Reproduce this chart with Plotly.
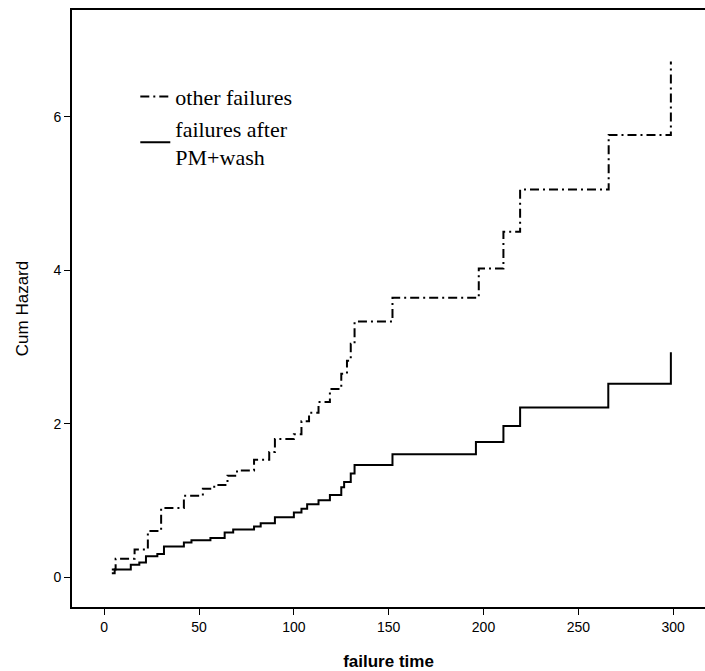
import plotly.graph_objects as go

# other failures (dash-dot step curve)
other_t = [4, 6, 16, 23, 30, 42, 52, 58, 65, 70, 79, 87, 90, 100, 104, 108, 113, 119, 125, 128, 130, 132, 152, 197.5, 210.5, 219.3, 266, 298.8]
other_h = [0.1, 0.24, 0.36, 0.6, 0.9, 1.06, 1.15, 1.2, 1.32, 1.39, 1.53, 1.63, 1.8, 1.86, 2.03, 2.14, 2.28, 2.45, 2.65, 2.82, 3.04, 3.33, 3.64, 4.02, 4.5, 5.05, 5.76, 6.72]

# failures after PM+wash (solid step curve)
pm_t = [4, 5.5, 14, 18.5, 22, 28, 31.5, 42, 46, 56, 63.5, 68, 79, 82.5, 90, 100, 104, 107, 113, 119, 125, 126.5, 130, 132, 152, 196, 210.5, 219.3, 265.8, 298.8]
pm_h = [0.05, 0.1, 0.16, 0.19, 0.27, 0.3, 0.4, 0.45, 0.48, 0.51, 0.58, 0.62, 0.66, 0.7, 0.78, 0.84, 0.89, 0.95, 1.0, 1.07, 1.17, 1.24, 1.35, 1.46, 1.6, 1.76, 1.97, 2.21, 2.52, 2.93]

x_ticks = [0, 50, 100, 150, 200, 250, 300]
y_ticks = [0, 2, 4, 6]

fig = go.Figure()
fig.add_trace(go.Scatter(
    x=other_t, y=other_h, mode="lines", line_shape="hv",
    line=dict(color="black", width=2, dash="9px,4px,2px,4px"),
    name="other failures"))
fig.add_trace(go.Scatter(
    x=pm_t, y=pm_h, mode="lines", line_shape="hv",
    line=dict(color="black", width=2),
    name="failures after<br>PM+wash"))

axis_font = dict(family="Liberation Sans, Arial, sans-serif", size=14, color="black")
fig.update_layout(
    width=705, height=671,
    margin=dict(l=72, r=0, t=10, b=64),
    paper_bgcolor="white", plot_bgcolor="white",
    showlegend=True,
    legend=dict(x=0.1, y=0.89, xanchor="left", yanchor="top",
                font=dict(family="Liberation Serif, Times New Roman, serif", size=22, color="black"),
                bgcolor="rgba(0,0,0,0)", itemwidth=30, tracegroupgap=0),
    xaxis=dict(range=[-17, 316.8], tickvals=x_ticks, showgrid=False, zeroline=False,
               showline=True, linecolor="black", linewidth=2, mirror=True,
               ticks="outside", ticklen=6, tickcolor="black", tickfont=axis_font,
               title=dict(text="failure time", standoff=22,
                          font=dict(family="Liberation Sans, Arial, sans-serif", size=17, color="black", weight="bold"))),
    yaxis=dict(range=[-0.39, 7.39], tickvals=y_ticks, showgrid=False, zeroline=False,
               showline=True, linecolor="black", linewidth=2, mirror=False,
               ticks="outside", ticklen=6, tickcolor="black", tickfont=axis_font,
               title=dict(text="Cum Hazard", standoff=20,
                          font=dict(family="Liberation Sans, Arial, sans-serif", size=17, color="black"))),
)

fig.write_html("out.html")
